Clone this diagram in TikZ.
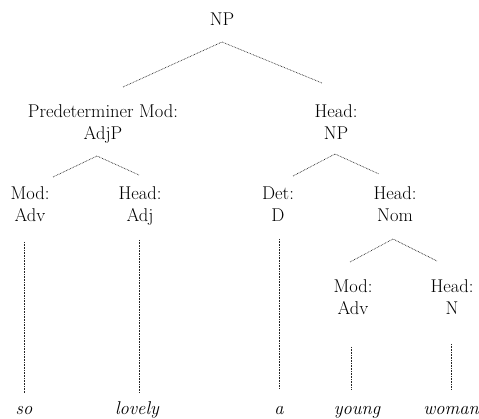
\documentclass[tikz,border=0pt]{standalone}
\tikzset{
  lbl/.style={anchor=base, inner sep=0pt, font=\fontsize{18.5}{21.5}\selectfont},
  leaf/.style={anchor=base, inner sep=0pt, font=\fontsize{18.5}{21.5}\selectfont\itshape},
  br/.style={draw=black!85, line width=0.7pt, dash pattern=on 0.7pt off 0.9pt},
}
\newcommand{\twoline}[2]{\begin{tabular}[t]{@{}c@{}}#1\\#2\end{tabular}}
\begin{document}
\begin{tikzpicture}[x=1pt,y=-1pt]
\useasboundingbox (0,0) rectangle (479,419);
% labels
\node[lbl] (n0) at (222,26) {NP};
\node[lbl] (n1) at (103,118) {\twoline{Predeterminer Mod:}{AdjP}};
\node[lbl] (n2) at (336,118) {\twoline{Head:}{NP}};
\node[lbl] (n3) at (30,200) {\twoline{Mod:}{Adv}};
\node[lbl] (n4) at (140,200) {\twoline{Head:}{Adj}};
\node[lbl] (n5) at (278,200) {\twoline{Det:}{D}};
\node[lbl] (n6) at (395,200) {\twoline{Head:}{Nom}};
\node[lbl] (n7) at (353,293) {\twoline{Mod:}{Adv}};
\node[lbl] (n8) at (452,293) {\twoline{Head:}{N}};
% leaves
\node[leaf] (w1) at (24,414) {so};
\node[leaf] (w2) at (137,414) {lovely};
\node[leaf] (w3) at (279,414) {a};
\node[leaf] (w4) at (357,414) {young};
\node[leaf] (w5) at (451,414) {woman};
% branch points
\coordinate (a0) at (222,42);  \coordinate (a0l) at (123,87);  \coordinate (a0r) at (322,83);
\coordinate (a1) at (97,156);  \coordinate (a1l) at (53,177);  \coordinate (a1r) at (139,175);
\coordinate (a2) at (335,154); \coordinate (a2l) at (293,176); \coordinate (a2r) at (379,174);
\coordinate (a6) at (393,239); \coordinate (a6l) at (350,262); \coordinate (a6r) at (437,261);
\draw[br] (a0l) -- (a0) -- (a0r);
\draw[br] (a1l) -- (a1) -- (a1r);
\draw[br] (a2l) -- (a2) -- (a2r);
\draw[br] (a6l) -- (a6) -- (a6r);
% vertical lines
\coordinate (v1a) at (24,242);  \coordinate (v1b) at (24,393);
\coordinate (v2a) at (139,240); \coordinate (v2b) at (139,393);
\coordinate (v3a) at (279,239); \coordinate (v3b) at (279,389);
\coordinate (v4a) at (351,347); \coordinate (v4b) at (351,390);
\coordinate (v5a) at (451,344); \coordinate (v5b) at (451,390);
\draw[br] (v1a) -- (v1b);
\draw[br] (v2a) -- (v2b);
\draw[br] (v3a) -- (v3b);
\draw[br] (v4a) -- (v4b);
\draw[br] (v5a) -- (v5b);
\end{tikzpicture}
\end{document}
